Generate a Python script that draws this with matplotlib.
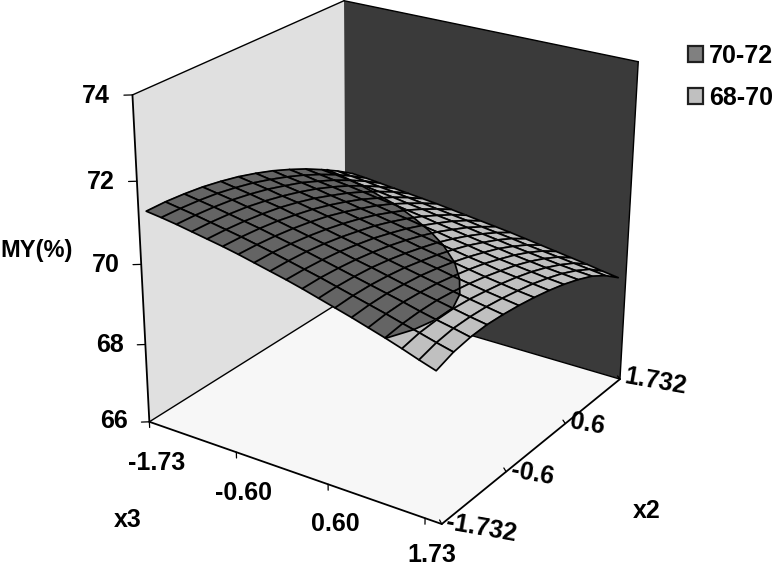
import numpy as np
import matplotlib
matplotlib.use("Agg")
import matplotlib.pyplot as plt
from matplotlib.patches import Patch
from mpl_toolkits.mplot3d.art3d import Poly3DCollection, Line3DCollection

plt.rcParams['font.family'] = ['Liberation Sans', 'DejaVu Sans']
W, H = 773, 568
x3_ticks = ['-1.73', '-0.60', '0.60', '1.73']
x2_ticks = ['-1.732', '-0.6', '0.6', '1.732']
z_ticks = [66, 68, 70, 72, 74]
legend_labels = ['70-72', '68-70']
# MY(%): rows run along x3, columns along x2
my_values = [
    [71.35,71.34,71.30,71.24,71.15,71.04,70.90,70.74,70.55,70.34,70.10,69.84,69.55],
    [71.30,71.28,71.24,71.18,71.09,70.98,70.84,70.68,70.50,70.29,70.06,69.80,69.52],
    [71.24,71.22,71.18,71.12,71.03,70.92,70.78,70.63,70.44,70.24,70.01,69.76,69.48],
    [71.17,71.15,71.11,71.05,70.96,70.85,70.72,70.57,70.39,70.19,69.96,69.71,69.44],
    [71.10,71.08,71.04,70.98,70.90,70.79,70.66,70.50,70.33,70.13,69.91,69.67,69.40],
    [71.03,71.01,70.97,70.91,70.82,70.72,70.59,70.44,70.27,70.07,69.86,69.62,69.36],
    [70.95,70.93,70.89,70.83,70.75,70.65,70.52,70.37,70.21,70.02,69.80,69.57,69.32],
    [70.86,70.85,70.81,70.75,70.67,70.57,70.45,70.31,70.14,69.96,69.75,69.52,69.27],
    [70.77,70.76,70.73,70.67,70.59,70.49,70.38,70.24,70.08,69.90,69.69,69.47,69.22],
    [70.68,70.67,70.64,70.59,70.51,70.42,70.30,70.17,70.01,69.83,69.64,69.42,69.17],
    [70.58,70.58,70.55,70.50,70.43,70.34,70.23,70.10,69.95,69.77,69.58,69.36,69.12],
    [70.47,70.48,70.46,70.42,70.35,70.26,70.15,70.03,69.88,69.71,69.52,69.31,69.07],
    [70.36,70.38,70.37,70.33,70.27,70.18,70.08,69.96,69.82,69.65,69.47,69.26,69.01],
    [70.25,70.28,70.28,70.24,70.19,70.11,70.01,69.89,69.75,69.60,69.41,69.20,68.95],
    [70.13,70.18,70.19,70.16,70.11,70.03,69.94,69.83,69.69,69.54,69.36,69.15,68.89],
    [70.01,70.07,70.09,70.08,70.03,69.96,69.87,69.76,69.64,69.49,69.31,69.10,68.83],
    [69.88,69.97,70.00,70.00,69.96,69.89,69.81,69.71,69.59,69.44,69.26,69.05,68.77],
    [69.74,69.86,69.92,69.92,69.89,69.83,69.75,69.66,69.54,69.40,69.22,69.00,68.70],
    [69.61,69.76,69.83,69.85,69.82,69.77,69.70,69.61,69.50,69.36,69.19,68.95,68.64],
]
Z = np.array(my_values)
n3, n2 = Z.shape
x3_pos = np.arange(n3) + 0.5   # category axis: points sit mid-bin
x2_pos = np.arange(n2, dtype=float)
X3MAX, X2MAX = n3, n2 - 1

# camera: projective matrix fitted to the frame of the reference
world = np.array([[0,0,66],[0,0,68],[0,0,70],[0,0,72],[0,0,74],[X3MAX,0,66],[X3MAX,X2MAX,66],
                  [X3MAX,X2MAX,74],[0,X2MAX,66],[0,X2MAX,74]],float)
pix = np.array([[150,422],[145.5,343],[141,263],[136.5,182],[132,96],[442,525],[620,378],[638,62],[345,300],[345,0]],float)
A = []
for (x,y,z),(p,q) in zip(world,pix):
    X=[x,y,z,1]
    A.append(X+[0,0,0,0]+[-p*c for c in X])
    A.append([0,0,0,0]+X+[-q*c for c in X])
P = np.linalg.svd(np.array(A))[2][-1].reshape(3,4)
ref = [10,6,70,1]
if (P[2]@ref)<0: P=-P
P = P/(P[2]@ref)

fig = plt.figure(figsize=(W/100,H/100),dpi=100,facecolor='white')
ax = fig.add_axes([0,-(W-H)/2/H,1,W/H],projection='3d')
ax.set_axis_off(); ax.computed_zorder=False
ax.patch.set_visible(False)
ax.apply_aspect()
T = ax.transData.get_matrix()
flip = np.array([[1,0,0],[0,-1,H],[0,0,1.]])
G = np.linalg.inv(T)@flip@P
wr = G[2]
M = np.vstack([G[0],G[1],wr-np.array([0,0,0,0.5*(wr@[X3MAX,0,66,1])]),wr])
ax.get_proj = lambda: M

def face(verts,fc,zo,ec='none',lw=0):
    ax.add_collection3d(Poly3DCollection([verts],facecolors=fc,edgecolors=ec,linewidths=lw,zorder=zo),autolim=False)
face([(0,0,66),(0,X2MAX,66),(0,X2MAX,74),(0,0,74)],'#e0e0e0',1)
face([(0,X2MAX,66),(X3MAX,X2MAX,66),(X3MAX,X2MAX,74),(0,X2MAX,74)],'#3a3a3a',1)
face([(0,0,66),(X3MAX,0,66),(X3MAX,X2MAX,66),(0,X2MAX,66)],'#f7f7f7',1)
def seg(a,b,lw=1.4,zo=2):
    ax.add_collection3d(Line3DCollection([[a,b]],colors='black',linewidths=lw,zorder=zo,capstyle='round'),autolim=False)
seg((0,0,66),(0,X2MAX,66),1.0); seg((0,X2MAX,66),(X3MAX,X2MAX,66),1.0)
seg((0,0,74),(0,X2MAX,74),1.0); seg((0,X2MAX,74),(X3MAX,X2MAX,74),1.0); seg((X3MAX,X2MAX,66),(X3MAX,X2MAX,74),1.0)
seg((0,0,66),(0,0,74),1.3); seg((0,0,66),(X3MAX,0,66),1.3); seg((X3MAX,0,66),(X3MAX,X2MAX,66),1.3)
for z in z_ticks:
    seg((0,0,z),(-0.34,-0.17,z),0.9)
for i in (0,6,12,18):
    seg((i,0,66),(i,0,65.85),0.9)
for j in (0,4,8,12):
    seg((X3MAX,j,66),(X3MAX-0.3,j+0.17,66),0.9)

DARK,LIGHT='#646464','#c0c0c0'
def clip(poly,sign):
    out=[]; n=len(poly)
    for k in range(n):
        a=poly[k]; b=poly[(k+1)%n]
        da=sign*(a[2]-70); db=sign*(b[2]-70)
        if da>=0: out.append(a)
        if da*db<0:
            t=da/(da-db); out.append(tuple(a[m]+t*(b[m]-a[m]) for m in range(3)))
    return out
cells=[]
for i in range(n3-1):
    for j in range(n2-1):
        poly=[(x3_pos[a],x2_pos[b],Z[a,b]) for a,b in ((i,j),(i+1,j),(i+1,j+1),(i,j+1))]
        d=np.mean([wr@[p[0],p[1],p[2],1] for p in poly])
        cells.append((d,poly))
cells.sort(key=lambda c:-c[0])
zo=10
for d,poly in cells:
    hi=clip(poly,1); lo=clip(poly,-1)
    if len(lo)>2: face(lo,LIGHT,zo)
    if len(hi)>2: face(hi,DARK,zo)
    face(poly,(0,0,0,0),zo+0.1,'black',1.25)
    cross=[p for p in hi if abs(p[2]-70)<1e-9]
    if len(cross)==2:
        seg(cross[0],cross[1],1.25,zo+0.2)
    zo+=1

def tx(x,y,s,rot=0,ha='center',fs=18):
    fig.text(x/W,1-y/H,s,fontsize=fs,fontweight='bold',ha=ha,va='center',rotation=rot,rotation_mode='anchor',color='black')
for z,x,y in zip(z_ticks,[114,110,106,101,96],[421,345,265,182,96]): tx(x,y,str(z))
tx(73,250,'MY(%)',ha='right',fs=17)
for s,x,y in zip(x3_ticks,[157,243,335,432],[463,493,524,555]): tx(x,y,s)
for s,x,y in zip(x2_ticks,[481,532,587,655],[528,474,424,382]): tx(x,y,s,rot=-10)
tx(128,520,'x3'); tx(647,511,'x2')
hs=[Patch(fc='#808080',ec='#202020',lw=1.6),Patch(fc='#c0c0c0',ec='#202020',lw=1.6)]
fig.legend(hs,legend_labels,loc='upper left',bbox_to_anchor=(688/W,1-44/H),frameon=False,borderpad=0,borderaxespad=0,
           prop={'size':18,'weight':'bold'},handlelength=0.6,handleheight=0.6,handletextpad=0.25,labelspacing=0.72)
fig.savefig('out.png',dpi=100)
